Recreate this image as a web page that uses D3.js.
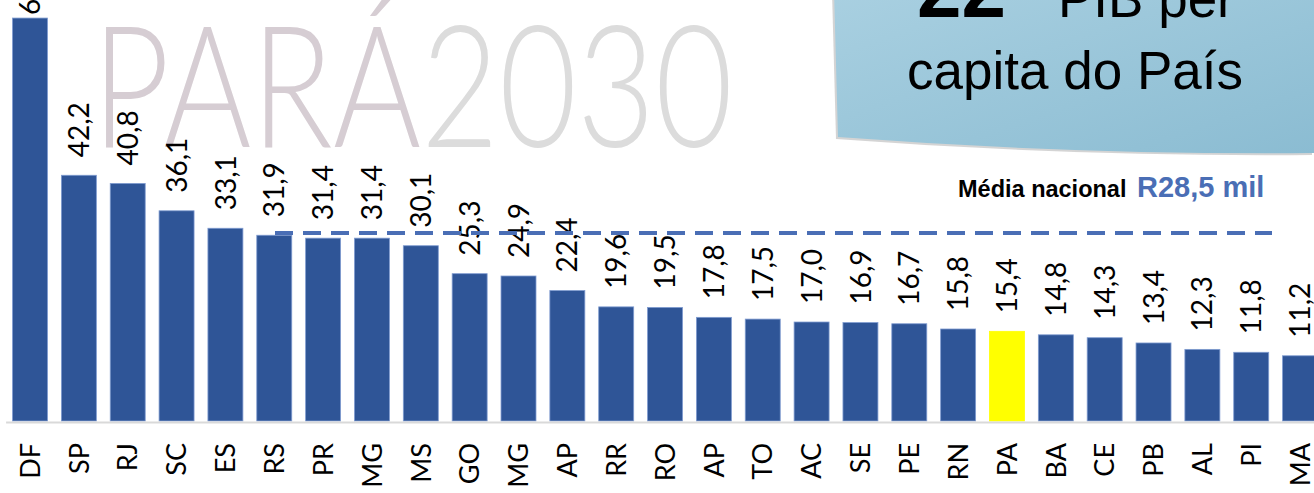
<!DOCTYPE html>
<html>
<head>
<meta charset="utf-8">
<script src="https://cdn.jsdelivr.net/npm/d3@7"></script>
<style>
  html, body { margin: 0; padding: 0; background: #fff; overflow: hidden; }
  svg { display: block; }
</style>
</head>
<body>
<div id="chart"></div>
<script>
// PIB per capita por UF (R$ mil)
const states = ["DF", "SP", "RJ", "SC", "ES", "RS", "PR", "MG", "MS", "GO", "MG", "AP", "RR", "RO",
  "AP", "TO", "AC", "SE", "PE", "RN", "PA", "BA", "CE", "PB", "AL", "PI", "MA"];
const values = [69.2, 42.2, 40.8, 36.1, 33.1, 31.9, 31.4, 31.4, 30.1, 25.3, 24.9, 22.4, 19.6, 19.5,
  17.8, 17.5, 17.0, 16.9, 16.7, 15.8, 15.4, 14.8, 14.3, 13.4, 12.3, 11.8, 11.2];
const highlight = "PA";
// national average, and where the dashed line sits on the value scale in the picture
const mediaNacional = 28.5;
const mediaLineLevel = 32.3;

const width = 1314;
const height = 493;
const barColor = "#2f5597";
const fmt = v => v.toFixed(1).replace(".", ",");

const svg = d3.select("#chart").append("svg")
  .attr("width", width)
  .attr("height", height);

const defs = svg.append("defs");
const grad = defs.append("linearGradient")
  .attr("id", "boxGrad")
  .attr("x1", "0%").attr("y1", "0%")
  .attr("x2", "100%").attr("y2", "100%");
grad.append("stop").attr("offset", "0%").attr("stop-color", "#a9d0e1");
grad.append("stop").attr("offset", "100%").attr("stop-color", "#8bbcd2");

// Scales
const x = d3.scaleBand()
  .domain(d3.range(states.length))
  .range([5.6, 1324.5])
  .paddingInner(0.284)
  .paddingOuter(0.142);

const y = d3.scaleLinear()
  .domain([0, 72.3])
  .range([421, 0]);

// Watermark behind the bars
const mark = svg.append("text")
  .attr("x", 92)
  .attr("y", 147)
  .attr("textLength", 641)
  .attr("lengthAdjust", "spacingAndGlyphs")
  .style("font-family", "Lato, sans-serif")
  .style("font-weight", 300)
  .style("font-size", "170px");
mark.append("tspan").attr("fill", "#d6cdd3").text("PARÁ");
mark.append("tspan").attr("fill", "#dcdcdc").text("2030");

// Callout box
const boxPath = "M834,-10 L838,137 Q1076,155 1314,153 L1314,-10 Z";
svg.append("path")
  .attr("d", boxPath)
  .attr("transform", "translate(-2,2)")
  .attr("fill", "#a0a0a0")
  .attr("opacity", 0.45);
svg.append("path")
  .attr("d", boxPath)
  .attr("fill", "url(#boxGrad)");

const title = svg.append("text")
  .attr("y", 17)
  .style("font-family", "'Liberation Sans', Arial, sans-serif")
  .style("fill", "#000");
title.append("tspan").attr("x", 917).style("font-weight", "bold").style("font-size", "80px").text("22");
title.append("tspan").attr("dy", -30).style("font-size", "40px").text("º");
title.append("tspan").attr("x", 1058).attr("dy", 30).style("font-size", "53px").text("PIB per");

svg.append("text")
  .attr("x", 1075)
  .attr("y", 89)
  .attr("text-anchor", "middle")
  .style("font-family", "'Liberation Sans', Arial, sans-serif")
  .style("font-size", "53px")
  .text("capita do País");

// Bars
svg.append("g")
  .selectAll("rect")
  .data(values)
  .join("rect")
  .attr("x", (d, i) => x(i))
  .attr("y", d => y(d))
  .attr("width", x.bandwidth())
  .attr("height", d => y(0) - y(d))
  .attr("fill", (d, i) => states[i] === highlight ? "#ffff00" : barColor)
  .attr("stroke", (d, i) => states[i] === highlight ? "#ffff00" : "#7f9bd0")
  .attr("stroke-width", 0.8);

// Value labels, rotated
svg.append("g")
  .selectAll("text")
  .data(values)
  .join("text")
  .attr("transform", (d, i) =>
    `translate(${x(i) + x.bandwidth() / 2},${Math.max(y(d) - 18, 15)}) rotate(-90)`)
  .attr("dy", "0.36em")
  .style("font-family", "Lato, sans-serif")
  .style("font-size", "28px")
  .style("fill", "#000")
  .text(d => fmt(d));

// National average line
svg.append("line")
  .attr("x1", 275)
  .attr("x2", 1272)
  .attr("y1", y(mediaLineLevel))
  .attr("y2", y(mediaLineLevel))
  .attr("stroke", "#4a6eb5")
  .attr("stroke-width", 4)
  .attr("stroke-dasharray", "18,10");

const media = svg.append("text")
  .attr("y", 197)
  .style("font-family", "'Liberation Sans', Arial, sans-serif")
  .style("font-weight", "bold");
media.append("tspan").attr("x", 958).style("font-size", "23.5px").style("fill", "#000").text("Média nacional");
media.append("tspan").attr("x", 1137).style("font-size", "29px").style("fill", "#4a6eb5")
  .text("R" + fmt(mediaNacional) + " mil");

// Category axis
const axis = svg.append("g")
  .attr("transform", "translate(0,422)")
  .call(d3.axisBottom(x).tickSize(0).tickSizeOuter(0).tickFormat(i => states[i]));
axis.select(".domain")
  .attr("stroke", "#d9d9d9")
  .attr("stroke-width", 2);
axis.selectAll("text")
  .attr("transform", "rotate(-90)")
  .attr("x", -21)
  .attr("y", 0)
  .attr("dy", "0.36em")
  .attr("text-anchor", "end")
  .style("font-family", "Lato, sans-serif")
  .style("font-size", "27px")
  .style("fill", "#000");
</script>
</body>
</html>
